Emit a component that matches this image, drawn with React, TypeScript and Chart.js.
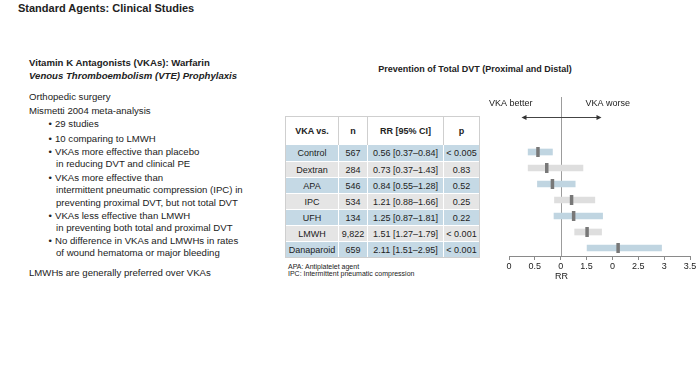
import React, { useEffect, useRef } from "react";
import { Chart, registerables } from "chart.js";

Chart.register(...registerables);

// ---------- data ----------
const agents = ["Control", "Dextran", "APA", "IPC", "UFH", "LMWH", "Danaparoid"];
const nValues = ["567", "284", "546", "534", "134", "9,822", "659"];
const rr = [0.56, 0.73, 0.84, 1.21, 1.25, 1.51, 2.11];
const ciLow = [0.37, 0.37, 0.55, 0.88, 0.87, 1.27, 1.51];
const ciHigh = [0.84, 1.43, 1.28, 1.66, 1.81, 1.79, 2.95];
const pValues = ["< 0.005", "0.83", "0.52", "0.25", "0.22", "< 0.001", "< 0.001"];
const xTickLabels = ["0", "0.5", "0", "1.5", "0", "2.5", "3", "3.5"];
const tableHeaders = ["VKA vs.", "n", "RR [95% CI]", "p"];

const FONT = '"Liberation Sans", Arial, Helvetica, sans-serif';
const BLUE_ROW = "#c5d9e5";
const GRAY_ROW = "#e5e5e5";
const BLUE_BAR = "#c0d5e1";
const GRAY_BAR = "#dedede";
const TEXT = "#222";

type TProps = {
  x: number;
  y: number;
  children: React.ReactNode;
  size?: number;
  bold?: boolean;
  italic?: boolean;
  center?: boolean;
};

function T({ x, y, children, size = 9.6, bold = false, italic = false, center = false }: TProps) {
  return (
    <div
      style={{
        position: "absolute",
        left: x,
        top: y - 7,
        height: 14,
        lineHeight: "14px",
        fontSize: size,
        fontWeight: bold ? 700 : 400,
        fontStyle: italic ? "italic" : "normal",
        color: TEXT,
        whiteSpace: "nowrap",
        fontFamily: FONT,
        transform: center ? "translateX(-50%)" : undefined,
      }}
    >
      {children}
    </div>
  );
}

function ForestChart() {
  const ref = useRef<HTMLCanvasElement | null>(null);
  useEffect(() => {
    if (!ref.current) return;
    const annot = {
      id: "annot",
      beforeDatasetsDraw(chart: any) {
        const { ctx, chartArea, scales } = chart;
        const x1 = Math.round(scales.x.getPixelForValue(1)) + 0.5;
        ctx.save();
        ctx.strokeStyle = "#9c9c9c";
        ctx.lineWidth = 1;
        ctx.beginPath();
        ctx.moveTo(x1, 12);
        ctx.lineTo(x1, chartArea.bottom);
        ctx.stroke();
        ctx.restore();
      },
      afterDraw(chart: any) {
        const { ctx, scales } = chart;
        const x1 = Math.round(scales.x.getPixelForValue(1)) + 0.5;
        ctx.save();
        ctx.fillStyle = TEXT;
        ctx.font = `9px ${FONT}`;
        ctx.textBaseline = "middle";
        ctx.textAlign = "right";
        ctx.fillText("VKA better", x1 - 29, 19);
        ctx.textAlign = "left";
        ctx.fillText("VKA worse", x1 + 24, 19);
        // double arrow
        const ay = 32.5;
        ctx.strokeStyle = "#444";
        ctx.fillStyle = "#333";
        ctx.lineWidth = 1;
        ctx.beginPath();
        ctx.moveTo(x1 - 36, ay);
        ctx.lineTo(x1 + 36, ay);
        ctx.stroke();
        ctx.beginPath();
        ctx.moveTo(x1 - 40, ay);
        ctx.lineTo(x1 - 35, ay - 2.5);
        ctx.lineTo(x1 - 35, ay + 2.5);
        ctx.closePath();
        ctx.fill();
        ctx.beginPath();
        ctx.moveTo(x1 + 40, ay);
        ctx.lineTo(x1 + 35, ay - 2.5);
        ctx.lineTo(x1 + 35, ay + 2.5);
        ctx.closePath();
        ctx.fill();
        // axis title
        ctx.fillStyle = TEXT;
        ctx.textAlign = "center";
        ctx.font = `9px ${FONT}`;
        ctx.fillText("RR", x1, 192);
        ctx.restore();
      },
    };

    const chart = new Chart(ref.current, {
      type: "bar",
      data: {
        labels: agents,
        datasets: [
          {
            type: "line",
            label: "RR",
            data: rr,
            indexAxis: "y",
            showLine: false,
            pointStyle: "line",
            pointRotation: 90,
            pointRadius: 5,
            pointHoverRadius: 5,
            pointBorderWidth: 3.5,
            pointBorderColor: "#787878",
            borderColor: "#787878",
            pointBackgroundColor: "#787878",
            order: 1,
          } as any,
          {
            type: "bar",
            label: "95% CI",
            data: ciLow.map((l, i) => [l, ciHigh[i]]) as any,
            backgroundColor: agents.map((_, i) => (i % 2 === 0 ? BLUE_BAR : GRAY_BAR)),
            borderWidth: 0,
            barThickness: 6,
            order: 2,
          },
        ],
      },
      options: {
        indexAxis: "y",
        responsive: false,
        animation: false,
        devicePixelRatio: 1,
        layout: { padding: { left: 29, right: 10, top: 59, bottom: 0 } },
        plugins: { legend: { display: false }, tooltip: { enabled: false }, title: { display: false } },
        scales: {
          y: {
            type: "category",
            display: false,
            offset: true,
            grid: { display: false },
          },
          x: {
            type: "linear",
            min: 0,
            max: 3.5,
            afterFit: (s: any) => {
              s.height = 34;
            },
            border: { display: true, color: "#8a8a8a", width: 1 },
            grid: {
              drawOnChartArea: false,
              drawTicks: true,
              tickLength: 4,
              tickColor: "#8a8a8a",
              color: "#8a8a8a",
            },
            ticks: {
              stepSize: 0.5,
              autoSkip: false,
              maxRotation: 0,
              padding: 1,
              color: TEXT,
              font: { family: FONT, size: 9 },
              callback: (_v: any, i: number) => xTickLabels[i],
            },
          },
        },
      } as any,
      plugins: [annot],
    });
    return () => chart.destroy();
  }, []);
  return <canvas ref={ref} width={220} height={205} style={{ display: "block", width: 220, height: 205 }} />;
}

const colEdges = [286, 338, 367, 443, 479];
const headerTop = 117;
const headerBottom = 145;
const rowH = 16;

function DataTable() {
  const cells: React.ReactNode[] = [];
  // header
  tableHeaders.forEach((h, c) => {
    cells.push(
      <div
        key={"h" + c}
        style={{
          position: "absolute",
          left: colEdges[c],
          top: headerTop,
          width: colEdges[c + 1] - colEdges[c],
          height: headerBottom - headerTop,
          boxSizing: "border-box",
          borderLeft: c > 0 ? "1px solid #cfcfcf" : undefined,
          background: "#fff",
          display: "flex",
          alignItems: "center",
          justifyContent: "center",
          fontFamily: FONT,
          fontWeight: 700,
          fontSize: 9,
          color: TEXT,
        }}
      >
        {h}
      </div>
    );
  });
  agents.forEach((a, r) => {
    const vals = [
      a,
      nValues[r],
      `${rr[r].toFixed(2)} [${ciLow[r].toFixed(2)}–${ciHigh[r].toFixed(2)}]`,
      pValues[r],
    ];
    vals.forEach((v, c) => {
      cells.push(
        <div
          key={`r${r}c${c}`}
          style={{
            position: "absolute",
            left: colEdges[c] + (c > 0 ? 1 : 0),
            top: headerBottom + r * rowH + (r > 0 ? 1 : 0),
            width: colEdges[c + 1] - colEdges[c] - (c > 0 ? 1 : 0),
            height: rowH - (r > 0 ? 1 : 0),
            background: r % 2 === 0 ? BLUE_ROW : GRAY_ROW,
            display: "flex",
            alignItems: "center",
            justifyContent: "center",
            fontFamily: FONT,
            fontSize: 9,
            color: TEXT,
            whiteSpace: "nowrap",
          }}
        >
          {v}
        </div>
      );
    });
  });
  const bottom = headerBottom + agents.length * rowH;
  return (
    <>
      <div
        style={{
          position: "absolute",
          left: colEdges[0] - 1,
          top: headerTop - 1,
          width: colEdges[4] - colEdges[0] + 2,
          height: bottom - headerTop + 2,
          boxSizing: "border-box",
          border: "1px solid #cfcfcf",
          background: "#fff",
        }}
      />
      {cells}
    </>
  );
}

export default function App() {
  return (
    <div
      style={{
        position: "absolute",
        left: 0,
        top: 0,
        width: 700,
        height: 374,
        background: "#fff",
        overflow: "hidden",
        fontFamily: FONT,
      }}
    >
      <T x={18} y={8} size={11} bold>
        Standard Agents: Clinical Studies
      </T>

      <T x={29} y={62.5} bold>
        Vitamin K Antagonists (VKAs): Warfarin
      </T>
      <T x={29} y={75.5} bold italic>
        Venous Thromboembolism (VTE) Prophylaxis
      </T>

      <T x={29} y={96.5}>Orthopedic surgery</T>
      <T x={29} y={110.5}>Mismetti 2004 meta-analysis</T>

      <T x={48.5} y={124}>•</T>
      <T x={55} y={124}>29 studies</T>
      <T x={48.5} y={138.5}>•</T>
      <T x={55} y={138.5}>10 comparing to LMWH</T>
      <T x={48.5} y={151.5}>•</T>
      <T x={55} y={151.5}>VKAs more effective than placebo</T>
      <T x={56} y={164}>in reducing DVT and clinical PE</T>
      <T x={48.5} y={177.5}>•</T>
      <T x={55} y={177.5}>VKAs more effective than</T>
      <T x={56} y={190}>intermittent pneumatic compression (IPC) in</T>
      <T x={56} y={202.5}>preventing proximal DVT, but not total DVT</T>
      <T x={48.5} y={216}>•</T>
      <T x={55} y={216}>VKAs less effective than LMWH</T>
      <T x={56} y={228.3}>in preventing both total and proximal DVT</T>
      <T x={48.5} y={240.5}>•</T>
      <T x={55} y={240.5}>No difference in VKAs and LMWHs in rates</T>
      <T x={56} y={252.5}>of wound hematoma or major bleeding</T>

      <T x={29} y={273.3}>LMWHs are generally preferred over VKAs</T>

      <T x={475} y={69} size={9} bold center>
        Prevention of Total DVT (Proximal and Distal)
      </T>

      <DataTable />

      <T x={288} y={266.7} size={7}>APA: Antiplatelet agent</T>
      <T x={288} y={274.3} size={7}>IPC: Intermittent pneumatic compression</T>

      <div style={{ position: "absolute", left: 480, top: 85, width: 220, height: 205 }}>
        <ForestChart />
      </div>
    </div>
  );
}
